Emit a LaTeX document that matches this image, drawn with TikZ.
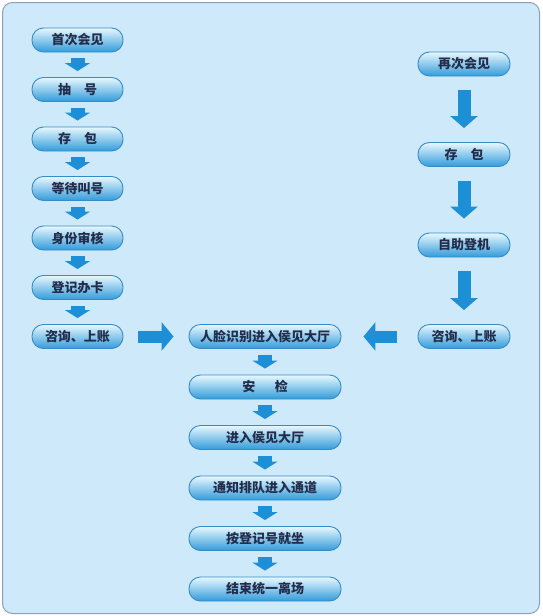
\documentclass[tikz,border=0pt]{standalone}
\usepackage{fontspec}
\usepackage{xcolor}
\usepackage{tikz}
\usetikzlibrary{arrows.meta}
\newfontfamily\cjk{Noto Sans CJK SC}

\definecolor{fond}{RGB}{206,233,249}
\definecolor{bord}{RGB}{140,160,185}
\definecolor{fleche}{RGB}{28,143,214}
\definecolor{contour}{RGB}{55,140,200}
\definecolor{texte}{RGB}{35,45,75}

\begin{document}
\begin{tikzpicture}[x=1pt,y=-1pt,
    etape/.style={draw=contour, line width=0.9pt, rounded corners=11.5pt,
        top color={rgb,255:red,232;green,248;blue,254},
        middle color={rgb,255:red,135;green,208;blue,240},
        bottom color={rgb,255:red,50;green,155;blue,218},
        minimum height=24pt, inner sep=0pt, text=texte,
        font=\cjk\bfseries\fontsize{13}{13}\selectfont},
    gauche/.style={etape, minimum width=91pt},
    droite/.style={etape, minimum width=92pt},
    centre/.style={etape, minimum width=152pt},
    petite/.style={draw=fleche, line width=14pt, shorten <=6pt, shorten >=6pt,
        -{Triangle[width=25pt,length=8pt]}},
    longue/.style={draw=fleche, line width=13pt, shorten <=14pt, shorten >=14pt,
        -{Triangle[width=27pt,length=12pt]}},
    large/.style={draw=fleche, line width=12pt, shorten <=15pt, shorten >=15pt,
        -{Triangle[width=28pt,length=12pt]}}]
    % Cadre
    \useasboundingbox (0,0) rectangle (542,616);
    \draw[fill=fond, draw=bord, line width=1pt, rounded corners=10pt] (2.5,2.5) rectangle (539.5,613.5);

    % Colonne gauche
    \node[gauche] (g1) at (77.5,40) {首次会见};
    \node[gauche] (g2) at (77.5,89.5) {抽\hspace{1em}号};
    \node[gauche] (g3) at (77.5,139) {存\hspace{1em}包};
    \node[gauche] (g4) at (77.5,188.5) {等待叫号};
    \node[gauche] (g5) at (77.5,238) {身份审核};
    \node[gauche] (g6) at (77.5,287.5) {登记办卡};
    \node[gauche] (g7) at (77.5,336.5) {咨询、上账};

    % Colonne droite
    \node[droite] (d1) at (464,64) {再次会见};
    \node[droite] (d2) at (464,154.5) {存\hspace{1em}包};
    \node[droite] (d3) at (464,245) {自助登机};
    \node[droite] (d4) at (464,336.5) {咨询、上账};

    % Colonne centrale
    \node[centre] (c1) at (265,336.5) {人脸识别进入侯见大厅};
    \node[centre] (c2) at (265,387) {安\hspace{1.5em}检};
    \node[centre] (c3) at (265,437.5) {进入侯见大厅};
    \node[centre] (c4) at (265,488) {通知排队进入通道};
    \node[centre] (c5) at (265,538.5) {按登记号就坐};
    \node[centre] (c6) at (265,589) {结束统一离场};

    % Flèches
    \draw[petite] (g1) -- (g2);
    \draw[petite] (g2) -- (g3);
    \draw[petite] (g3) -- (g4);
    \draw[petite] (g4) -- (g5);
    \draw[petite] (g5) -- (g6);
    \draw[petite] (g6) -- (g7);
    \draw[longue] (d1) -- (d2);
    \draw[longue] (d2) -- (d3);
    \draw[longue] (d3) -- (d4);
    \draw[large] (g7) -- (c1);
    \draw[large, shorten <=21pt, shorten >=22pt] (d4) -- (c1);
    \draw[petite] (c1) -- (c2);
    \draw[petite] (c2) -- (c3);
    \draw[petite] (c3) -- (c4);
    \draw[petite] (c4) -- (c5);
    \draw[petite] (c5) -- (c6);
\end{tikzpicture}
\end{document}
